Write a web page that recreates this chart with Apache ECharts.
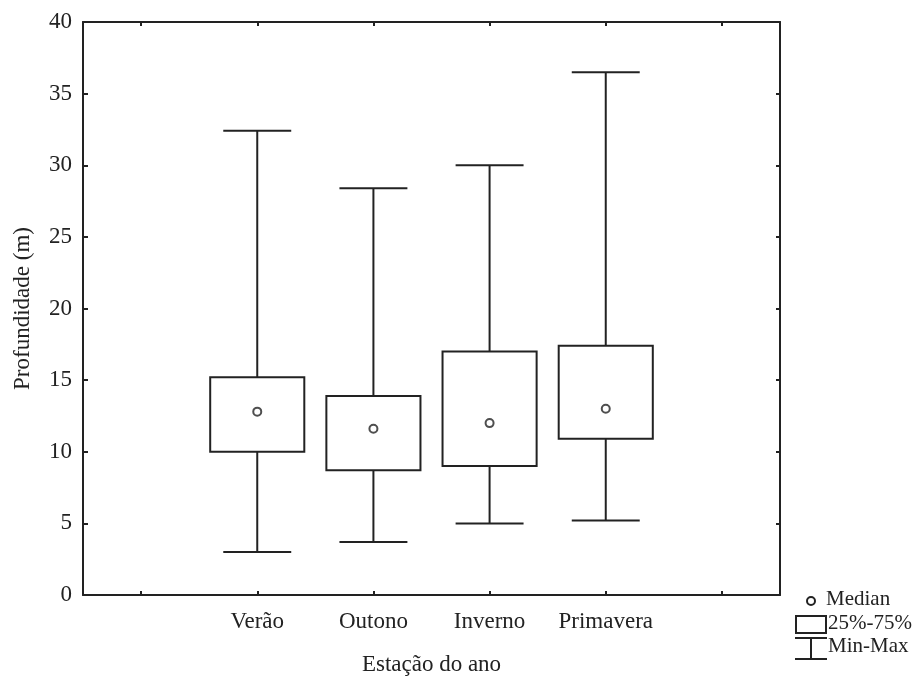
<!DOCTYPE html>
<html>
<head>
<meta charset="utf-8">
<script src="https://cdn.jsdelivr.net/npm/echarts@6/dist/echarts.min.js"></script>
<style>
  html, body { margin: 0; padding: 0; background: #fff; }
  #chart { width: 916px; height: 681px; }
</style>
</head>
<body>
<div id="chart"></div>
<script>
// Seasons shown on the x axis (one empty slot on each side)
const seasons = ['Verão', 'Outono', 'Inverno', 'Primavera'];
const axisCategories = [' '].concat(seasons, ['  ']);

// Depth statistics per season (m)
const minValues    = [3.0, 3.7, 5.0, 5.2];
const q1Values     = [10.0, 8.7, 9.0, 10.9];
const medianValues = [12.8, 11.6, 12.0, 13.0];
const q3Values     = [15.2, 13.9, 17.0, 17.4];
const maxValues    = [32.4, 28.4, 30.0, 36.5];

// Y axis ticks
const yTicks = [0, 5, 10, 15, 20, 25, 30, 35, 40];

const INK = '#222222';
const FONT = "'Liberation Serif', 'Times New Roman', serif";

const boxData = seasons.map((s, i) => [i + 1, minValues[i], q1Values[i], medianValues[i], q3Values[i], maxValues[i]]);
const medianData = seasons.map((s, i) => [i + 1, medianValues[i]]);

function renderBox(params, api) {
  const x = api.value(0);
  const lo = api.coord([x, api.value(1)]);
  const q1 = api.coord([x, api.value(2)]);
  const q3 = api.coord([x, api.value(4)]);
  const hi = api.coord([x, api.value(5)]);
  const band = api.size([1, 0])[0];
  const bw = band * 0.81;
  const cw = band * 0.585;
  const cx = lo[0];
  const ls = { stroke: INK, lineWidth: 2 };
  return {
    type: 'group',
    children: [
      { type: 'line', shape: { x1: cx, y1: hi[1], x2: cx, y2: q3[1] }, style: ls },
      { type: 'line', shape: { x1: cx, y1: q1[1], x2: cx, y2: lo[1] }, style: ls },
      { type: 'line', shape: { x1: cx - cw / 2, y1: hi[1], x2: cx + cw / 2, y2: hi[1] }, style: ls },
      { type: 'line', shape: { x1: cx - cw / 2, y1: lo[1], x2: cx + cw / 2, y2: lo[1] }, style: ls },
      { type: 'rect', shape: { x: cx - bw / 2, y: q3[1], width: bw, height: q1[1] - q3[1] },
        style: { fill: '#fff', stroke: INK, lineWidth: 2 } }
    ]
  };
}

const axisLine = { show: true, onZero: false, lineStyle: { color: INK, width: 2 } };

const chart = echarts.init(document.getElementById('chart'), null, { renderer: 'canvas' });
chart.setOption({
  backgroundColor: '#fff',
  animation: false,
  grid: { left: 83, right: 136, top: 22, bottom: 79, containLabel: false },
  xAxis: [
    {
      type: 'category', position: 'bottom', data: axisCategories,
      axisLine: axisLine,
      axisTick: { show: true, inside: true, length: 4, alignWithLabel: true, interval: 0, lineStyle: { color: INK, width: 2 } },
      axisLabel: { show: true, interval: 0, margin: 15, color: INK, fontFamily: FONT, fontSize: 23 },
      splitLine: { show: false },
      name: 'Estação do ano', nameLocation: 'middle', nameGap: 58,
      nameTextStyle: { color: INK, fontFamily: FONT, fontSize: 23 }
    },
    {
      type: 'category', position: 'top', data: axisCategories,
      axisLine: axisLine,
      axisTick: { show: true, inside: true, length: 4, alignWithLabel: true, interval: 0, lineStyle: { color: INK, width: 2 } },
      axisLabel: { show: false },
      splitLine: { show: false }
    }
  ],
  yAxis: [
    {
      type: 'value', position: 'left', min: 0, max: 40, interval: 5,
      axisLine: axisLine,
      axisTick: { show: true, inside: true, length: 5, lineStyle: { color: INK, width: 2 } },
      axisLabel: {
        margin: 11, color: INK, fontFamily: FONT, fontSize: 23,
        formatter: v => (yTicks.indexOf(v) >= 0 ? String(v) : '')
      },
      splitLine: { show: false },
      name: 'Profundidade (m)', nameLocation: 'middle', nameGap: 49, nameRotate: 90,
      nameTextStyle: { color: INK, fontFamily: FONT, fontSize: 23 }
    },
    {
      type: 'value', position: 'right', min: 0, max: 40, interval: 5,
      axisLine: axisLine,
      axisTick: { show: true, inside: true, length: 4, lineStyle: { color: INK, width: 2 } },
      axisLabel: { show: false },
      splitLine: { show: false }
    }
  ],
  series: [
    {
      name: 'Min-Max / 25%-75%', type: 'custom', xAxisIndex: 0, yAxisIndex: 0,
      renderItem: renderBox, data: boxData,
      encode: { x: 0, y: [1, 2, 3, 4, 5] }, z: 2
    },
    {
      name: 'Median', type: 'scatter', xAxisIndex: 0, yAxisIndex: 0,
      data: medianData, symbol: 'emptyCircle', symbolSize: 8,
      itemStyle: { color: INK, borderColor: INK, borderWidth: 2 }, z: 3
    }
  ],
  // Key in the lower right corner
  graphic: [
    { type: 'circle', shape: { cx: 811, cy: 601, r: 4 }, style: { fill: '#fff', stroke: INK, lineWidth: 2 } },
    { type: 'text', left: 826, top: 589, style: { text: 'Median', fill: INK, font: '21px ' + FONT } },
    { type: 'rect', shape: { x: 796, y: 616, width: 30, height: 17 }, style: { fill: '#fff', stroke: INK, lineWidth: 2 } },
    { type: 'text', left: 828, top: 613, style: { text: '25%-75%', fill: INK, font: '21px ' + FONT } },
    { type: 'line', shape: { x1: 795, y1: 638, x2: 827, y2: 638 }, style: { stroke: INK, lineWidth: 2 } },
    { type: 'line', shape: { x1: 811, y1: 638, x2: 811, y2: 659 }, style: { stroke: INK, lineWidth: 2 } },
    { type: 'line', shape: { x1: 795, y1: 659, x2: 827, y2: 659 }, style: { stroke: INK, lineWidth: 2 } },
    { type: 'text', left: 828, top: 636, style: { text: 'Min-Max', fill: INK, font: '21px ' + FONT } }
  ]
});
</script>
</body>
</html>
